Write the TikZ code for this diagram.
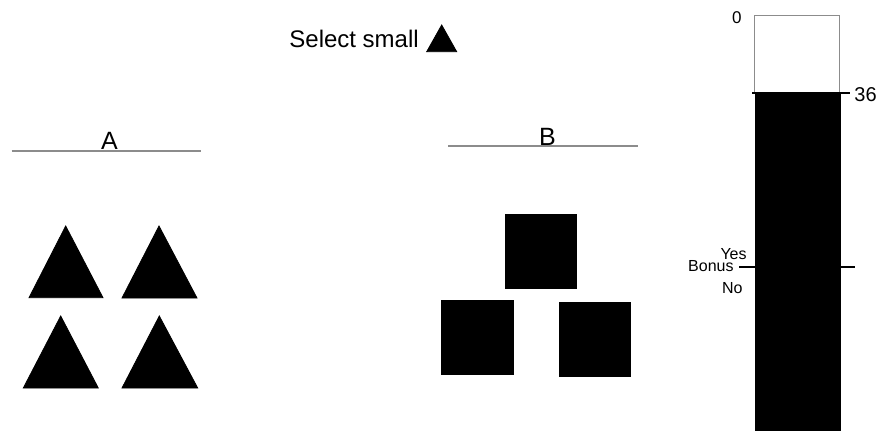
\documentclass[tikz,border=0pt]{standalone}
\usepackage{fontspec}
\setmainfont{Liberation Sans}
\usepackage{tikz}
\usetikzlibrary{positioning}
\tikzset{>=latex}
\definecolor{rulegray}{rgb}{0.55, 0.55, 0.55}
\tikzset{label/.style={inner sep=0pt, font=\fontsize{8}{9}\selectfont}}
\tikzset{head/.style={inner sep=0pt, font=\fontsize{12.5}{15}\selectfont}}
\tikzset{divider/.style={rulegray, line width=0.9pt}}
\tikzset{marker/.style={black, line width=1pt}}

\begin{document}
\begin{tikzpicture}[x=0.5pt, y=-0.5pt]
        \useasboundingbox (0, 0) rectangle (880, 430); %
        % instruction
        \node[inner sep=0pt, anchor=base west, font=\fontsize{12}{14}\selectfont]
        (instr) at (289, 47.3) {Select small}; %
        \filldraw[black] (426.7, 51.7) -- (441.7, 25) -- (456.7, 51.7) -- cycle; %
        % choice A
        \draw[divider] (11.7, 150.7) -- (200.7, 150.7); %
        \node[head, anchor=base] (labA) at (109.5, 149.5) {A}; %
        \filldraw[black] (29, 297.7) -- (65.7, 226) -- (103, 297.7) -- cycle; %
        \filldraw[black] (122, 298) -- (159, 226) -- (197, 298) -- cycle; %
        \filldraw[black] (23.3, 388) -- (60.7, 316) -- (98.3, 388) -- cycle; %
        \filldraw[black] (122, 388) -- (159.3, 316) -- (197.7, 388) -- cycle; %
        % choice B
        \draw[divider] (448, 146) -- (638, 146); %
        \node[head, anchor=base] (labB) at (547.5, 145) {B}; %
        \filldraw[black] (505.7, 214.3) rectangle (576, 288.3); %
        \filldraw[black] (441.7, 300) rectangle (513.3, 374.3); %
        \filldraw[black] (559.3, 302.7) rectangle (630.7, 376); %
        % progress bar
        \draw[rulegray, line width=0.6pt] (754.3, 15.7) rectangle (839.5, 93.3); %
        \filldraw[black] (755, 93.3) rectangle (840, 432); %
        \draw[marker] (752, 93.3) -- (850, 93.3); %
        \node[inner sep=0pt, anchor=base east, font=\fontsize{8.5}{10}\selectfont]
        (top) at (742, 23.3) {0}; %
        \node[inner sep=0pt, anchor=base west, font=\fontsize{10}{12}\selectfont]
        (score) at (854, 101.5) {36}; %
        \draw[marker] (739, 267.3) -- (756, 267.3); %
        \draw[marker] (839, 267.3) -- (855, 267.3); %
        \node[label, anchor=base east] (yes) at (747, 259) {Yes}; %
        \node[label, anchor=base east] (bonus) at (734, 271.7) {Bonus}; %
        \node[label, anchor=base east] (no) at (743, 293.3) {No}; %
      \end{tikzpicture}
\end{document}
